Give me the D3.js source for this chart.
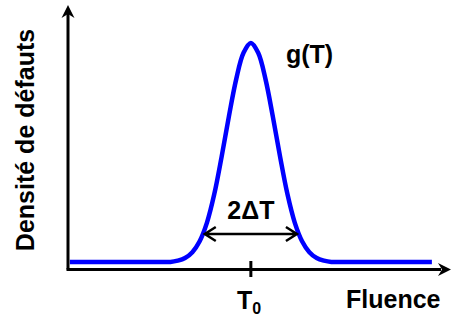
<!DOCTYPE html>
<html>
<head>
<meta charset="utf-8">
<script src="https://cdn.jsdelivr.net/npm/d3@7"></script>
<style>
  body { margin: 0; background: #fff; }
  text { font-family: "Liberation Sans", Arial, sans-serif; font-weight: bold; fill: #000; }
</style>
</head>
<body>
<svg width="454" height="318"></svg>
<script>
// fluence values (arbitrary units) and defect density
const fluence = [0.5, 26, 28, 30, 32, 34, 36, 38, 40, 42, 44, 46, 48, 50,
  52, 54, 56, 58, 60, 62, 64, 66, 68, 70, 72, 74, 99.5];
const density = [0, 0, 0, 0.006, 0.018, 0.045, 0.095, 0.18, 0.31, 0.48, 0.665, 0.835, 0.955, 1,
  0.955, 0.835, 0.665, 0.48, 0.31, 0.18, 0.095, 0.045, 0.018, 0.006, 0, 0, 0];

const T0 = 50;
const deltaT = 12.6; // half width of the arrow
const arrowLevel = 0.128; // height of the 2ΔT arrow

const xLabel = "Fluence";
const yLabel = "Densité de défauts";
const curveLabel = "g(T)";

const pts = fluence.map((f, i) => ({ x: f, y: density[i] }));

const svg = d3.select("svg");

const x = d3.scaleLinear().domain([0, 105]).range([68, 452]);
const y = d3.scaleLinear().domain([0, 1]).range([262, 43]);

const axisY = 269.5; // pixel row of the horizontal axis

// gaussian curve
svg.append("path")
  .datum(pts)
  .attr("fill", "none")
  .attr("stroke", "#0000ff")
  .attr("stroke-width", 4.5)
  .attr("stroke-linejoin", "round")
  .attr("d", d3.line().x(d => x(d.x)).y(d => y(d.y)).curve(d3.curveCatmullRom));

// axes with arrow heads
const head = (tx, ty, angle) =>
  svg.append("path")
    .attr("d", "M0,0 L-13,-6.5 L-9,0 L-13,6.5 Z")
    .attr("transform", `translate(${tx},${ty}) rotate(${angle})`)
    .attr("fill", "#000");

svg.append("path")
  .attr("d", `M${x(0)},${axisY} V14`)
  .attr("stroke", "#000").attr("stroke-width", 3).attr("fill", "none");
head(x(0), 5, -90);

svg.append("path")
  .attr("d", `M${x(0) - 1.5},${axisY} H441`)
  .attr("stroke", "#000").attr("stroke-width", 3).attr("fill", "none");
head(451, axisY, 0);

// tick at T0
svg.append("line")
  .attr("x1", x(T0)).attr("x2", x(T0))
  .attr("y1", 261).attr("y2", 277)
  .attr("stroke", "#000").attr("stroke-width", 3);

// double arrow 2ΔT
const ay = y(arrowLevel);
const xa = x(T0 - deltaT), xb = x(T0 + deltaT);
svg.append("path")
  .attr("d", `M${xa},${ay} H${xb} M${xa + 11},${ay - 7} L${xa},${ay} L${xa + 11},${ay + 7}` +
    ` M${xb - 11},${ay - 7} L${xb},${ay} L${xb - 11},${ay + 7}`)
  .attr("fill", "none")
  .attr("stroke", "#000")
  .attr("stroke-width", 2.5);

svg.append("text")
  .attr("x", x(T0)).attr("y", 219)
  .attr("text-anchor", "middle")
  .style("font-size", "25px")
  .text("2ΔT");

// labels
const t0 = svg.append("text")
  .attr("x", 237).attr("y", 309)
  .style("font-size", "25px");
t0.append("tspan").text("T");
t0.append("tspan").attr("dy", 5).style("font-size", "16px").text("0");

svg.append("text")
  .attr("x", 346).attr("y", 308)
  .style("font-size", "25px")
  .text(xLabel);

svg.append("text")
  .attr("x", 286).attr("y", 63)
  .style("font-size", "25px")
  .text(curveLabel);

svg.append("text")
  .attr("transform", "translate(34,140) rotate(-90)")
  .attr("text-anchor", "middle")
  .style("font-size", "25px")
  .text(yLabel);
</script>
</body>
</html>
